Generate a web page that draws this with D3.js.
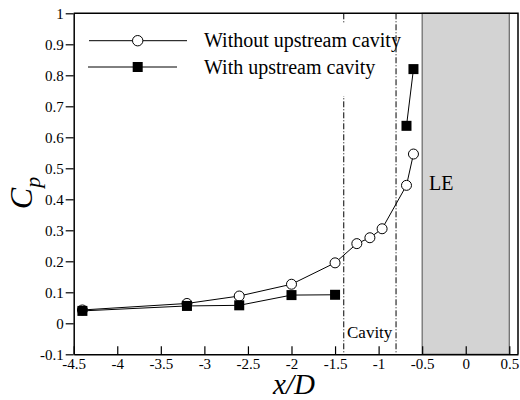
<!DOCTYPE html>
<html lang="en">
<head>
    <meta charset="UTF-8">
    <title>Cp vs x/D</title>
    <script src="https://d3js.org/d3.v7.min.js"></script>
    <style>
        body { margin: 0; background: #fff; }
        svg { display: block; }
        text { font-family: "Liberation Serif", "Times New Roman", "DejaVu Serif", serif; fill: #000; }
    </style>
</head>
<body>
    <script>
    // data (null = break in the curve, no data there)
    const xWithout = [-4.4, -3.2, -2.6, -2.0, -1.5, -1.25, -1.1, -0.96, -0.68, -0.6];
    const cpWithout = [0.043, 0.064, 0.088, 0.126, 0.195, 0.257, 0.276, 0.305, 0.445, 0.546];
    const xWith = [-4.4, -3.2, -2.6, -2.0, -1.5, null, -0.68, -0.6];
    const cpWith = [0.040, 0.056, 0.058, 0.091, 0.092, null, 0.637, 0.820];
    const xTicks = [-4.5, -4, -3.5, -3, -2.5, -2, -1.5, -1, -0.5, 0, 0.5];
    const yTicks = [-0.1, 0, 0.1, 0.2, 0.3, 0.4, 0.5, 0.6, 0.7, 0.8, 0.9, 1];
    const cavityEdges = [-1.4, -0.8];
    const leRegion = [-0.5, 0.5];
    const seriesNames = ["Without upstream cavity", "With upstream cavity"];

    const W = 520, H = 400;
    const mLeft = 73.7, mRight = 518, mTop = 13.3, mBottom = 354.3;
    const serif = "Liberation Serif, Times New Roman, DejaVu Serif, serif";

    const svg = d3.select("body").append("svg")
        .attr("width", W)
        .attr("height", H);

    const x = d3.scaleLinear().domain([-4.5, 0.6]).range([mLeft, mRight]);
    const y = d3.scaleLinear().domain([-0.1, 1]).range([mBottom, mTop]);

    // leading edge block
    svg.append("rect")
        .attr("x", x(leRegion[0]))
        .attr("y", mTop)
        .attr("width", x(leRegion[1]) - x(leRegion[0]))
        .attr("height", mBottom - mTop)
        .attr("fill", "#d3d3d3")
        .attr("stroke", "#666")
        .attr("stroke-width", 1.2);

    // cavity edges
    svg.selectAll(".cav")
        .data(cavityEdges)
        .enter().append("line")
        .attr("x1", d => x(d)).attr("x2", d => x(d))
        .attr("y1", mTop).attr("y2", mBottom)
        .attr("stroke", "#000")
        .attr("stroke-width", 1)
        .attr("stroke-dasharray", "6,2,1,2");

    // legend background hides part of the left cavity line
    svg.append("rect")
        .attr("x", 86).attr("y", 24)
        .attr("width", 300).attr("height", 72)
        .attr("fill", "#fff");

    // axes, plain hyphen for the minus sign
    const fmt = d => String(d);
    const xAxis = d3.axisBottom(x).tickValues(xTicks).tickSizeInner(-8).tickSizeOuter(0)
        .tickPadding(4).tickFormat(fmt);
    const gx = svg.append("g").attr("transform", `translate(0,${mBottom})`).call(xAxis);

    const yAxis = d3.axisLeft(y).tickValues(yTicks).tickSizeInner(8).tickSizeOuter(0)
        .tickPadding(2).tickFormat(fmt);
    const gy = svg.append("g").attr("transform", `translate(${mLeft},0)`).call(yAxis);

    [gx, gy].forEach(g => {
        g.attr("font-family", serif).attr("font-size", 15);
        g.selectAll("text").attr("font-size", 15).attr("font-family", serif).attr("fill", "#000");
        g.selectAll("line").attr("stroke", "#000").attr("stroke-width", 1.2);
        g.select(".domain").attr("stroke", "#000").attr("stroke-width", 1.5);
    });

    // top and right frame
    svg.append("path")
        .attr("d", `M${mLeft},${mTop}H${mRight}V${mBottom}`)
        .attr("fill", "none")
        .attr("stroke", "#000")
        .attr("stroke-width", 1.5);

    const line = d3.line()
        .defined(d => d[0] !== null)
        .x(d => x(d[0])).y(d => y(d[1]));
    const ptsWithout = xWithout.map((v, i) => [v, cpWithout[i]]);
    const ptsWith = xWith.map((v, i) => [v, cpWith[i]]);

    svg.append("path").datum(ptsWithout).attr("d", line)
        .attr("fill", "none").attr("stroke", "#000").attr("stroke-width", 1);
    svg.append("path").datum(ptsWith).attr("d", line)
        .attr("fill", "none").attr("stroke", "#000").attr("stroke-width", 1);

    svg.selectAll(".circ").data(ptsWithout).enter().append("circle")
        .attr("cx", d => x(d[0])).attr("cy", d => y(d[1]))
        .attr("r", 5)
        .attr("fill", "#fff").attr("stroke", "#000").attr("stroke-width", 1);

    svg.selectAll(".sq").data(ptsWith.filter(d => d[0] !== null)).enter().append("rect")
        .attr("x", d => x(d[0]) - 5).attr("y", d => y(d[1]) - 5)
        .attr("width", 10).attr("height", 10)
        .attr("fill", "#000");

    // legend
    svg.append("line").attr("x1", 89).attr("x2", 187).attr("y1", 40.7).attr("y2", 40.7)
        .attr("stroke", "#000").attr("stroke-width", 1);
    svg.append("circle").attr("cx", 137.7).attr("cy", 40.7).attr("r", 5.2)
        .attr("fill", "#fff").attr("stroke", "#000").attr("stroke-width", 1);
    svg.append("line").attr("x1", 88).attr("x2", 177).attr("y1", 67).attr("y2", 67)
        .attr("stroke", "#000").attr("stroke-width", 1);
    svg.append("rect").attr("x", 132.7).attr("y", 62).attr("width", 10).attr("height", 10)
        .attr("fill", "#000");
    svg.selectAll(".leg").data(seriesNames).enter().append("text")
        .attr("x", 204).attr("y", (d, i) => 46.5 + i * 27.5)
        .attr("font-family", serif)
        .attr("font-size", 20)
        .text(d => d);

    // annotations
    svg.append("text").attr("x", 429).attr("y", 190)
        .attr("font-family", serif).attr("font-size", 20).text("LE");
    svg.append("text").attr("x", 347).attr("y", 338)
        .attr("font-family", serif).attr("font-size", 17).text("Cavity");

    // axis titles
    svg.append("text").attr("x", 294).attr("y", 394)
        .attr("text-anchor", "middle").attr("font-family", serif)
        .attr("font-size", 29).attr("font-style", "italic")
        .text("x/D");

    const yl = svg.append("text")
        .attr("transform", "translate(32,193) rotate(-90)")
        .attr("text-anchor", "middle")
        .attr("font-family", serif)
        .attr("font-style", "italic");
    yl.append("tspan").attr("font-size", 32).text("C");
    yl.append("tspan").attr("font-size", 22).attr("dy", 8).text("p");
    </script>
</body>
</html>
